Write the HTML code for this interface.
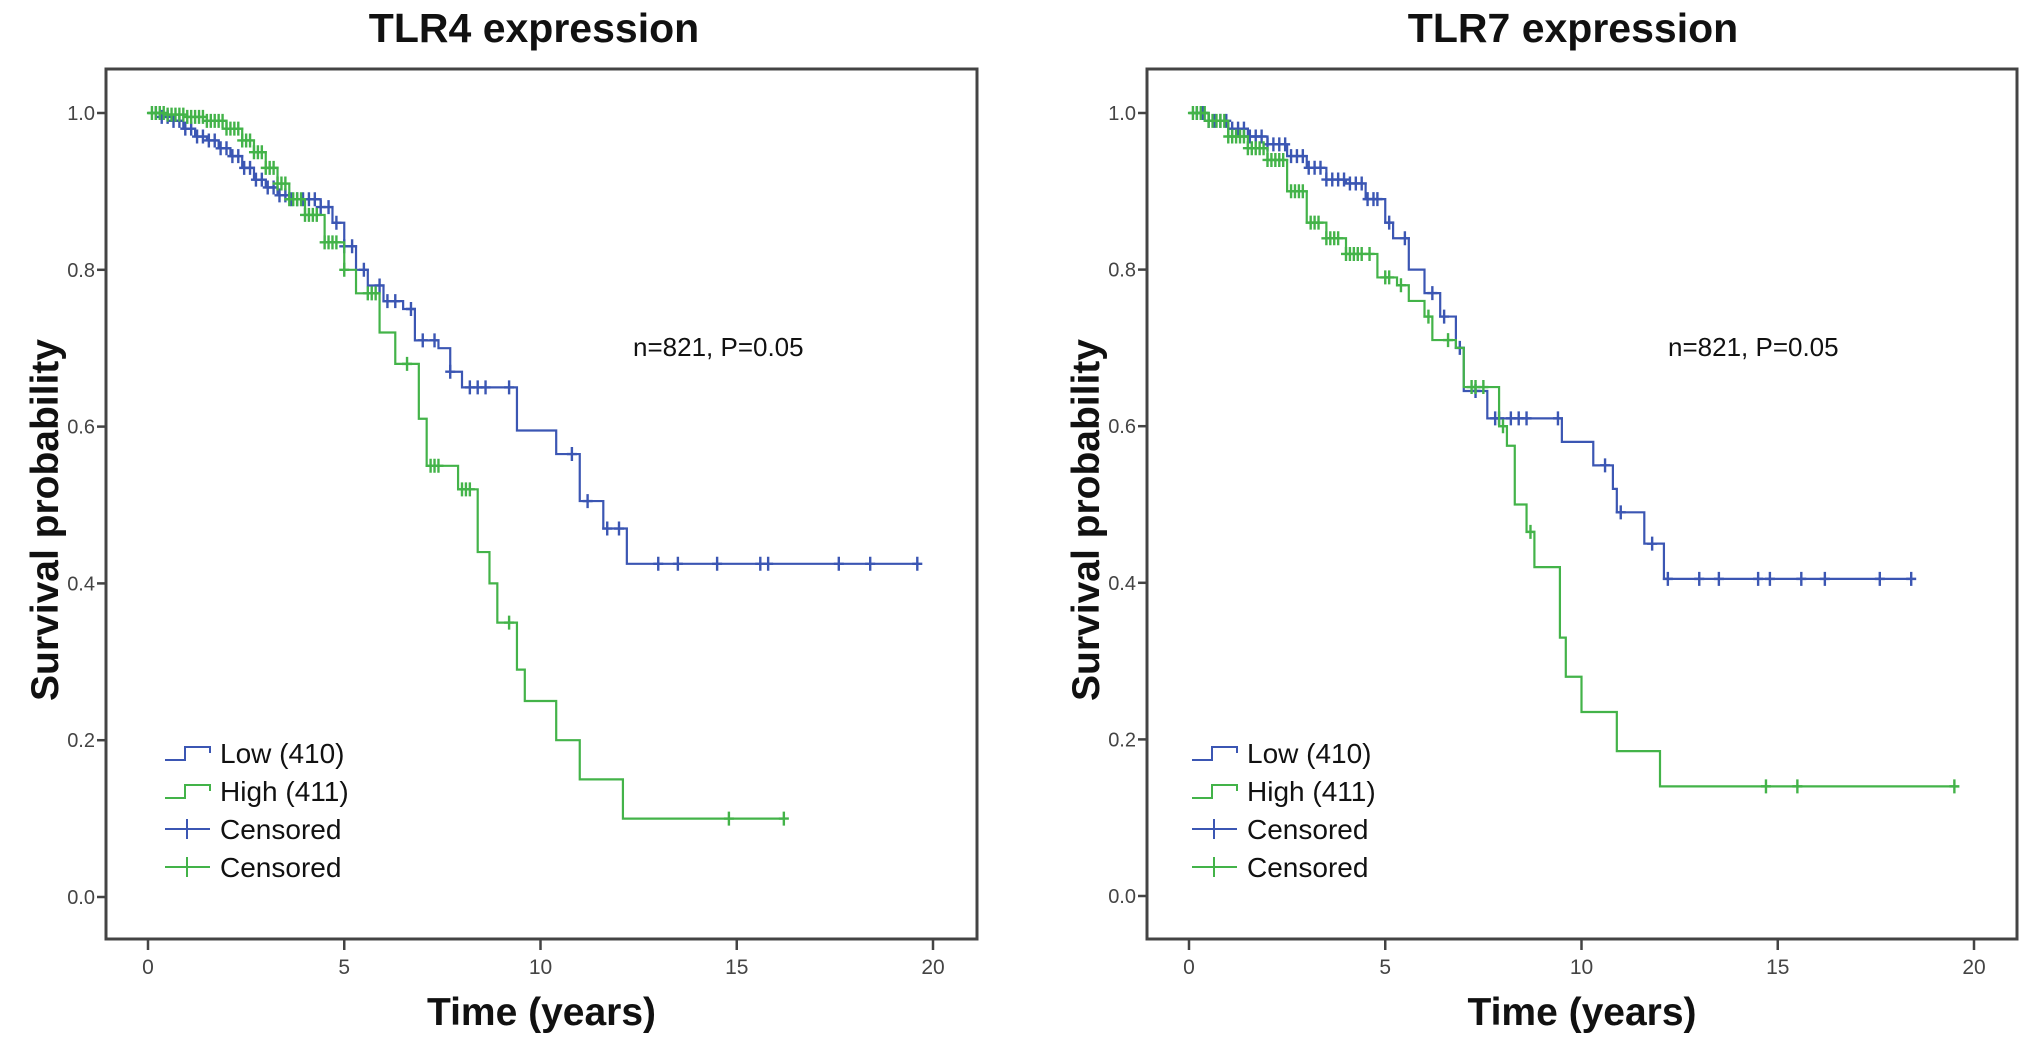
<!DOCTYPE html>
<html><head><meta charset="utf-8">
<style>
html,body{margin:0;padding:0;background:#fff;}
svg{display:block;}
text{font-family:"Liberation Sans",Arial,sans-serif;}
</style></head>
<body>
<svg id="chart" width="2031" height="1043" viewBox="0 0 2031 1043"></svg>
<script>
// ---- data ----
const xTicks = [0, 5, 10, 15, 20];
const yTicks = [0.0, 0.2, 0.4, 0.6, 0.8, 1.0];
const legendLabels = ["Low (410)", "High (411)", "Censored", "Censored"];
const annotationText = "n=821, P=0.05";

// TLR4 panel
const tlr4LowT = [0,0.3,0.6,0.9,1.2,1.5,1.8,2.1,2.4,2.7,3.0,3.3,3.6,4.4,4.7,5.0,5.3,5.6,6.0,6.5,6.8,7.4,7.7,8.0,9.4,10.4,11.0,11.6,12.2,19.6];
const tlr4LowS = [1,0.995,0.99,0.98,0.97,0.965,0.955,0.945,0.93,0.915,0.905,0.895,0.89,0.88,0.86,0.83,0.80,0.78,0.76,0.75,0.71,0.70,0.67,0.65,0.595,0.565,0.505,0.47,0.425,0.425];
const tlr4LowC = [0.2,0.35,0.5,0.65,0.8,0.95,1.1,1.25,1.4,1.55,1.7,1.85,2,2.15,2.3,2.45,2.6,2.75,2.9,3.05,3.2,3.35,3.5,3.65,3.8,3.95,4.1,4.25,4.4,4.6,4.8,5.0,5.2,5.5,5.9,6.1,6.3,6.7,7.0,7.3,7.7,8.2,8.4,8.6,9.2,10.8,11.2,11.7,12.0,13.0,13.5,14.5,15.6,15.8,17.6,18.4,19.6];
const tlr4HighT = [0,0.5,1.0,1.5,2.0,2.4,2.7,3.0,3.3,3.6,4.0,4.5,5.0,5.3,5.9,6.3,6.9,7.1,7.9,8.4,8.7,8.9,9.4,9.6,10.4,11.0,12.1,16.2];
const tlr4HighS = [1,0.998,0.995,0.99,0.98,0.965,0.95,0.93,0.91,0.89,0.87,0.835,0.80,0.77,0.72,0.68,0.61,0.55,0.52,0.44,0.40,0.35,0.29,0.25,0.20,0.15,0.10,0.10];
const tlr4HighC = [0.1,0.2,0.3,0.4,0.5,0.6,0.7,0.8,0.9,1.0,1.1,1.2,1.3,1.4,1.5,1.6,1.7,1.8,1.9,2.0,2.1,2.2,2.3,2.4,2.5,2.6,2.7,2.8,2.9,3.0,3.1,3.2,3.3,3.4,3.5,3.6,3.7,3.8,3.9,4.0,4.1,4.2,4.3,4.5,4.6,4.7,4.8,5.0,5.6,5.7,5.8,6.6,7.2,7.3,7.4,8.0,8.1,8.2,9.2,14.8,16.2];

// TLR7 panel
const tlr7LowT = [0,0.5,1.0,1.5,2.0,2.5,3.0,3.5,4.0,4.5,5.0,5.2,5.6,6.0,6.4,6.8,7.0,7.6,9.5,10.3,10.8,10.9,11.6,12.1,18.4];
const tlr7LowS = [1,0.99,0.98,0.97,0.96,0.945,0.93,0.915,0.91,0.89,0.86,0.84,0.80,0.77,0.74,0.70,0.645,0.61,0.58,0.55,0.52,0.49,0.45,0.405,0.405];
const tlr7LowC = [0.2,0.35,0.5,0.65,0.8,0.95,1.1,1.25,1.4,1.55,1.7,1.85,2,2.15,2.3,2.45,2.6,2.75,2.9,3.05,3.2,3.35,3.5,3.65,3.8,3.95,4.1,4.25,4.4,4.55,4.7,4.8,5.1,5.5,6.2,6.5,6.9,7.3,7.8,7.9,8.2,8.4,8.6,9.4,10.6,11.0,11.8,12.2,13.0,13.5,14.5,14.8,15.6,16.2,17.6,18.4];
const tlr7HighT = [0,0.5,1.0,1.5,2.0,2.5,3.0,3.5,4.0,4.8,5.3,5.6,6.0,6.2,6.8,7.0,7.9,8.1,8.3,8.6,8.8,9.45,9.6,10.0,10.9,12.0,19.5];
const tlr7HighS = [1,0.99,0.97,0.955,0.94,0.90,0.86,0.84,0.82,0.79,0.78,0.76,0.74,0.71,0.70,0.65,0.60,0.575,0.50,0.465,0.42,0.33,0.28,0.235,0.185,0.14,0.14];
const tlr7HighC = [0.1,0.2,0.3,0.4,0.5,0.6,0.7,0.8,0.9,1.0,1.1,1.2,1.3,1.4,1.5,1.6,1.7,1.8,1.9,2.0,2.1,2.2,2.3,2.4,2.6,2.7,2.8,2.9,3.1,3.2,3.3,3.5,3.6,3.7,3.8,4.0,4.1,4.2,4.3,4.4,4.6,5.0,5.1,5.4,6.1,6.6,7.2,7.3,7.5,8.0,8.7,14.7,15.5,19.5];

const BLUE = "#3b56b3", GREEN = "#43b349";
const NS = "http://www.w3.org/2000/svg";
const svg = document.getElementById("chart");
function el(tag, attrs, parent){
  const e = document.createElementNS(NS, tag);
  for (const k in attrs) e.setAttribute(k, attrs[k]);
  (parent||svg).appendChild(e);
  return e;
}

function survAt(T, S, t){
  let v = S[0];
  for (let i=0;i<T.length;i++){ if (T[i] <= t) v = S[i]; }
  return v;
}

function drawPanel(cfg){
  const g = el("g", {});
  
  
  const xs = t => cfg.x0 + t * cfg.pxPerYear;
  const ys = s => cfg.y0 - s * cfg.pxPerUnit;

  const title = el("text", {x: cfg.titleX, y: 42, "text-anchor":"middle", "font-size":"41", "font-weight":"bold", fill:"#111"}, g);
  title.textContent = cfg.title;
  
  

  const frame = el("rect", {x: cfg.fx, y: 69, width: cfg.fw, height: 870, fill:"none", stroke:"#444", "stroke-width":"3"}, g);
  
  

  yTicks.forEach(v => {
    const y = ys(v);
    const tk = el("line", {x1: cfg.fx-9, x2: cfg.fx, y1: y, y2: y, stroke:"#444", "stroke-width":"2.5"}, g);
    
    
    const lb = el("text", {x: cfg.fx-11, y: y+7, "text-anchor":"end", "font-size":"20", fill:"#444"}, g);
    lb.textContent = v.toFixed(1);
    
    
  });
  xTicks.forEach(v => {
    const x = xs(v);
    const tk = el("line", {x1: x, x2: x, y1: 939, y2: 950, stroke:"#444", "stroke-width":"2.5"}, g);
    
    
    const lb = el("text", {x: x, y: 974, "text-anchor":"middle", "font-size":"21", fill:"#444"}, g);
    lb.textContent = String(v);
    
    
  });

  const yt = el("text", {x: 0, y: 0, transform: `translate(${cfg.fx-48},${520}) rotate(-90)`, "text-anchor":"middle", "font-size":"39", "font-weight":"bold", fill:"#111"}, g);
  yt.textContent = "Survival probability";
  
  
  const xt = el("text", {x: cfg.fx + cfg.fw/2, y: 1025, "text-anchor":"middle", "font-size":"39", "font-weight":"bold", fill:"#111"}, g);
  xt.textContent = "Time (years)";
  
  

  function curve(T, S, C, color, nm){
    let d = `M${xs(T[0])},${ys(S[0])}`;
    for (let i=1;i<T.length;i++){
      d += ` H${xs(T[i])} V${ys(S[i])}`;
    }
    const p = el("path", {d: d, fill:"none", stroke: color, "stroke-width":"2.2"}, g);
    
    
    C.forEach(t => {
      const x = xs(t), y = ys(survAt(T, S, t));
      const c = el("path", {d:`M${x},${y-7} V${y+7} M${x-5},${y} H${x+5}`, stroke: color, "stroke-width":"2.4", fill:"none"}, g);
      
      
    });
  }
  curve(cfg.lowT, cfg.lowS, cfg.lowC, BLUE, 'low');
  curve(cfg.highT, cfg.highS, cfg.highC, GREEN, 'high');

  const an = el("text", {x: cfg.annX, y: 356, "font-size":"26", fill:"#111"}, g);
  an.textContent = annotationText;
  
  

  const lx = cfg.legX, rows = [753, 791, 829, 867];
  const colors = [BLUE, GREEN, BLUE, GREEN];
  legendLabels.forEach((lab, i) => {
    const y = rows[i], c = colors[i];
    let sym;
    if (i < 2) {
      sym = el("path", {d:`M${lx},${y+7} H${lx+20} V${y-6} H${lx+45} V${y}`, stroke:c, "stroke-width":"2", fill:"none"}, g);
    } else {
      sym = el("path", {d:`M${lx},${y} H${lx+45} M${lx+22},${y-10} V${y+10}`, stroke:c, "stroke-width":"2", fill:"none"}, g);
    }
    
    
    const t = el("text", {x: lx+55, y: y+10, "font-size":"28", fill:"#111"}, g);
    t.textContent = lab;
    
    
  });
}

drawPanel({name:"tlr4-panel", title:"TLR4 expression", titleX:534, fx:106, fw:871, x0:148, pxPerYear:39.25, y0:897, pxPerUnit:784,
  lowT:tlr4LowT, lowS:tlr4LowS, lowC:tlr4LowC, highT:tlr4HighT, highS:tlr4HighS, highC:tlr4HighC, annX:633, legX:165});
drawPanel({name:"tlr7-panel", title:"TLR7 expression", titleX:1573, fx:1147, fw:870, x0:1189, pxPerYear:39.25, y0:896, pxPerUnit:783,
  lowT:tlr7LowT, lowS:tlr7LowS, lowC:tlr7LowC, highT:tlr7HighT, highS:tlr7HighS, highC:tlr7HighC, annX:1668, legX:1192});
</script>
</body></html>
